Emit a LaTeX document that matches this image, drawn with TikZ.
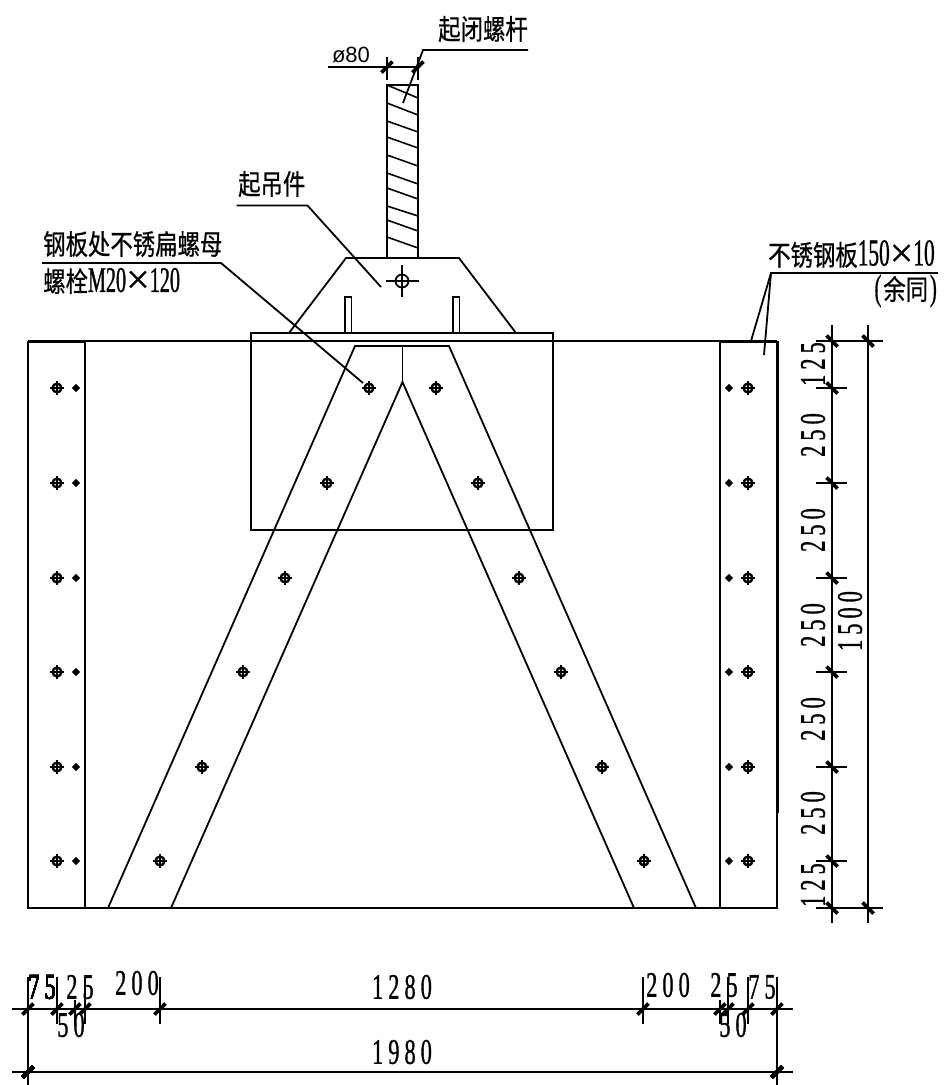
\documentclass[tikz,border=0pt]{standalone}
\usepackage{fontspec}
\newfontfamily\cjk[FakeStretch=0.8,FakeBold=0.6]{Noto Sans CJK SC}
\newfontfamily\dimf[FakeStretch=0.62,LetterSpace=14,FakeBold=0.8]{Liberation Serif}
\newfontfamily\latf[FakeStretch=0.56,FakeBold=0.8]{Liberation Serif}
\newfontfamily\crossf[FakeBold=0.3]{Liberation Serif}
\newfontfamily\isof{Liberation Sans}
\newcommand\bigx{{\fontsize{42}{42}\selectfont\crossf\raisebox{-1.5pt}{×}}}
\tikzset{
  ln/.style={line width=1.8pt,line cap=butt},
  thin ln/.style={line width=1.6pt},
  thk/.style={line width=3pt},
  tk/.style={line width=3.6pt},
  dimtext/.style={inner sep=0pt,font=\fontsize{36}{36}\selectfont\dimf},
  cjktext/.style={inner sep=0pt,anchor=west,font=\fontsize{28}{28}\selectfont\cjk},
}
\newcommand\tickU[2]{\draw[tk] ({#1-5.5},{#2+5.5}) -- ({#1+5.5},{#2-5.5});}
\newcommand\tickD[2]{\draw[tk] ({#1-5.5},{#2-5.5}) -- ({#1+5.5},{#2+5.5});}
\newcommand\bigbolt[2]{%
  \draw[line width=2.4pt] (#1,#2) circle[radius=4.4pt];
  \draw[line width=1.5pt] ({#1-7},#2) -- ({#1+7},#2) ({#1},{#2-7}) -- ({#1},{#2+7});}
\newcommand\smallbolt[2]{%
  \fill ({#1-4.2},#2) -- ({#1},{#2-4.2}) -- ({#1+4.2},#2) -- ({#1},{#2+4.2}) -- cycle;}
\begin{document}
\begin{tikzpicture}[x=1pt,y=-1pt]
\useasboundingbox (0,0) rectangle (944,1085);
\fill[white] (0,0) rectangle (944,1085);
% outer frame
\draw[ln] (28,341) -- (28,908) -- (777,908) -- (777,341);
\draw[ln] (28,341) -- (777,341);
\draw[ln] (85,341) -- (85,908);
\draw[ln] (720,341) -- (720,908);
\draw[thk] (28,341) -- (85,341);
\draw[thk] (720,341) -- (777,341);
\draw[thk] (777,341) -- (777,813);
% upper plate
\draw[ln] (251,333) rectangle (553,530);
% lifting piece
\draw[ln] (289,333) -- (346,258) -- (459,258) -- (516,333);
\draw[ln] (345,333) -- (345,297) -- (351.5,297) -- (351.5,333);
\draw[ln] (453,333) -- (453,297) -- (459.5,297) -- (459.5,333);
\draw[ln] (351.5,333) -- (453,333);
% pin
\draw[ln] (402,281) circle[radius=6.5pt];
\draw[ln] (386,281) -- (419,281) (402,265) -- (402,297);
% screw stem
\draw[ln] (387,258) -- (387,85) -- (418,85) -- (418,258);
\foreach \a/\b in {85/98,103/115,121/132,137/148,155/166,173/184,188/199,206/216,220/231,237/248}
  \draw[thin ln] (387,\a) -- (418,\b);
% A frame
\draw[ln] (108,908) -- (355,346) -- (449,346) -- (696,908);
\draw[ln] (171,908) -- (402.5,382) -- (634,908);
\draw[ln] (402.5,346) -- (402.5,382);
% bolts
\foreach \lx/\rx/\y in {369/436/388,327/478/483,285/519/578,243/561/672,202/602/767,160/644/861}{
  \bigbolt{\lx}{\y}
  \bigbolt{\rx}{\y}
  \bigbolt{57}{\y}
  \smallbolt{76}{\y}
  \smallbolt{729}{\y}
  \bigbolt{748}{\y}
}
% phi 80 dimension
\draw[ln] (328,67) -- (418,67);
\draw[ln] (387,57) -- (387,80);
\draw[ln] (418,57) -- (418,80);
\tickU{387}{67}
\tickU{418}{67}
\node[inner sep=0pt,font=\fontsize{22}{22}\selectfont\isof] (phi) at (351,55) {ø80};
% labels with leaders
\node[cjktext] (t1) at (438,29) {起闭螺杆};
\coordinate (l1a) at (528,50);
\coordinate (l1b) at (423,50);
\coordinate (l1c) at (403,103);
\draw[ln] (l1a) -- (l1b) -- (l1c);
\node[cjktext] (t2) at (238,184) {起吊件};
\coordinate (l2a) at (236.5,205.5);
\coordinate (l2b) at (307.5,205.5);
\coordinate (l2c) at (381,287);
\draw[ln] (l2a) -- (l2b) -- (l2c);
\node[cjktext] (t3) at (43,244) {钢板处不锈扁螺母};
\node[cjktext] (t4) at (43,281) {螺栓{\fontsize{36}{36}\selectfont\latf M20}\bigx{\fontsize{36}{36}\selectfont\latf 120}};
\coordinate (l3a) at (42,263);
\coordinate (l3b) at (221,263);
\coordinate (l3c) at (363,383);
\draw[ln] (l3a) -- (l3b) -- (l3c);
\node[cjktext] (t5) at (768,254) {不锈钢板{\fontsize{38}{38}\selectfont\latf 150}\bigx{\fontsize{38}{38}\selectfont\latf 10}};
\node[inner sep=0pt,anchor=east,font=\fontsize{28}{28}\selectfont\cjk] (t6) at (937,291) {{\fontsize{36}{36}\selectfont\latf (}\hspace{2pt}余同\hspace{2pt}{\fontsize{36}{36}\selectfont\latf )}};
\coordinate (l4a) at (938,273);
\coordinate (l4b) at (771,273);
\coordinate (l4c) at (751,341);
\coordinate (l4d) at (764,355);
\draw[ln] (l4a) -- (l4b) -- (l4c);
\draw[ln] (l4b) -- (l4d);
% right dimensions
\draw[ln] (832,325) -- (832,923);
\draw[ln] (868,325) -- (868,923);
\draw[ln] (816,341) -- (883,341);
\draw[ln] (816,908) -- (883,908);
\foreach \y in {388,483,578,672,767,861}{
  \draw[ln] (816,\y) -- (847,\y);
  \tickD{832}{\y}
}
\tickD{832}{341}
\tickD{868}{341}
\tickD{832}{908}
\tickD{868}{908}
\node[dimtext,rotate=90] (d1) at (813,364) {125};
\node[dimtext,rotate=90] (d2) at (813,435) {250};
\node[dimtext,rotate=90] (d3) at (813,530) {250};
\node[dimtext,rotate=90] (d4) at (813,625) {250};
\node[dimtext,rotate=90] (d5) at (813,719) {250};
\node[dimtext,rotate=90] (d6) at (813,813) {250};
\node[dimtext,rotate=90] (d7) at (813,885) {125};
\node[dimtext,rotate=90] (d8) at (850,621) {1500};
% bottom dimensions
\draw[ln] (12,1009) -- (793,1009);
\draw[ln] (12,1072) -- (793,1072);
\draw[ln] (28,977) -- (28,1085);
\draw[ln] (777,977) -- (777,1085);
\foreach \x in {57,85,160,643,728,748}
  \draw[ln] (\x,977) -- (\x,1024);
\foreach \x in {75,720}
  \draw[ln] (\x,1000) -- (\x,1024);
\foreach \x in {28,57,75,85,160,643,720,728,748,777}
  \tickU{\x}{1009}
\tickU{28}{1072}
\tickU{777}{1072}
\node[dimtext] (b1) at (42,987) {75};
\node[dimtext] (b2) at (80,987) {25};
\node[dimtext] (b3) at (137,983) {200};
\node[dimtext] (b4) at (71,1025) {50};
\node[dimtext] (b5) at (402,987) {1280};
\node[dimtext] (b6) at (668,985) {200};
\node[dimtext] (b7) at (724,985) {25};
\node[dimtext] (b8) at (762,987) {75};
\node[dimtext] (b9) at (733,1025) {50};
\node[dimtext] (b10) at (402,1052) {1980};
\end{tikzpicture}
\end{document}
